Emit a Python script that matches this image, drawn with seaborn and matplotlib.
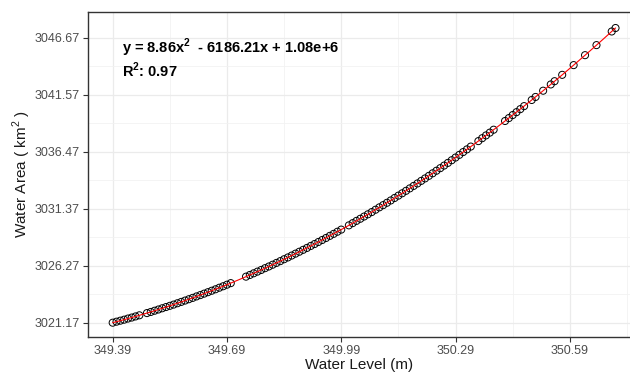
import numpy as np
import pandas as pd
import seaborn as sns
import matplotlib.pyplot as plt
from matplotlib.ticker import MultipleLocator, FixedLocator

# water level (m) / water area (km2)
level = [349.39, 349.40, 349.41, 349.42, 349.43, 349.44, 349.45, 349.46,
         349.48, 349.49, 349.50, 349.51, 349.52, 349.53, 349.54, 349.55,
         349.56, 349.57, 349.58, 349.59, 349.60, 349.61, 349.62, 349.63,
         349.64, 349.65, 349.66, 349.67, 349.68, 349.69, 349.70,
         349.74, 349.75, 349.76, 349.77, 349.78, 349.79, 349.80, 349.81,
         349.82, 349.83, 349.84, 349.85, 349.86, 349.87, 349.88, 349.89,
         349.90, 349.91, 349.92, 349.93, 349.94, 349.95, 349.96, 349.97,
         349.98, 349.99,
         350.01, 350.02, 350.03, 350.04, 350.05, 350.06, 350.07, 350.08,
         350.09, 350.10, 350.11, 350.12, 350.13, 350.14, 350.15, 350.16,
         350.17, 350.18, 350.19, 350.20, 350.21, 350.22, 350.23, 350.24,
         350.25, 350.26, 350.27, 350.28, 350.29, 350.30, 350.31, 350.32,
         350.33, 350.35, 350.36, 350.37, 350.38, 350.39, 350.42, 350.43,
         350.44, 350.45, 350.46, 350.47, 350.49, 350.50, 350.52, 350.54,
         350.55, 350.57, 350.60, 350.63, 350.66, 350.70, 350.71]
area = [3021.17, 3021.26, 3021.35, 3021.44, 3021.54, 3021.63, 3021.73, 3021.83,
        3022.03, 3022.13, 3022.24, 3022.35, 3022.46, 3022.57, 3022.68, 3022.79,
        3022.91, 3023.03, 3023.15, 3023.27, 3023.39, 3023.52, 3023.64, 3023.77,
        3023.90, 3024.03, 3024.16, 3024.30, 3024.43, 3024.57, 3024.71,
        3025.29, 3025.44, 3025.59, 3025.74, 3025.89, 3026.05, 3026.20, 3026.36,
        3026.52, 3026.68, 3026.85, 3027.01, 3027.18, 3027.35, 3027.52, 3027.69,
        3027.86, 3028.04, 3028.21, 3028.39, 3028.57, 3028.75, 3028.94, 3029.12,
        3029.31, 3029.50,
        3029.88, 3030.08, 3030.28, 3030.47, 3030.67, 3030.87, 3031.07, 3031.28,
        3031.49, 3031.69, 3031.90, 3032.11, 3032.33, 3032.54, 3032.75, 3032.97,
        3033.19, 3033.41, 3033.63, 3033.86, 3034.08, 3034.31, 3034.54, 3034.77,
        3035.00, 3035.23, 3035.47, 3035.71, 3035.95, 3036.19, 3036.44, 3036.68,
        3036.93, 3037.42, 3037.68, 3037.93, 3038.18, 3038.44, 3039.22, 3039.48,
        3039.75, 3040.01, 3040.28, 3040.55, 3041.10, 3041.37, 3041.93, 3042.49,
        3042.78, 3043.35, 3044.22, 3045.11, 3046.01, 3047.23, 3047.54]

x_ticks = [349.39, 349.69, 349.99, 350.29, 350.59]
y_ticks = [3021.17, 3026.27, 3031.37, 3036.47, 3041.57, 3046.67]

eq_text = 'y = 8.86x$^\\mathbf{2}$  - 6186.21x + 1.08e+6'
r2_text = 'R$^\\mathbf{2}$: 0.97'

df = pd.DataFrame({'level': level, 'area': area})

sns.set_theme(style='white')
plt.rcParams['font.family'] = ['Liberation Sans', 'DejaVu Sans']
plt.rcParams['mathtext.fontset'] = 'custom'
plt.rcParams['mathtext.rm'] = 'Liberation Sans'
plt.rcParams['mathtext.bf'] = 'Liberation Sans:bold'

fig = plt.figure(figsize=(6.3, 3.74), dpi=100)
ax = fig.add_axes([88.3 / 630, 1 - 336.7 / 374, (630 - 88.3) / 630, 325 / 374])

sns.regplot(data=df, x='level', y='area', order=2, ci=None, ax=ax, color='black',
            scatter_kws=dict(s=26, facecolors='none', edgecolors='black',
                             linewidths=0.7, alpha=1, zorder=2),
            line_kws=dict(color='red', lw=0.8, zorder=3))

ax.set_xlim(349.326, 350.748)
ax.set_ylim(3019.916, 3049.0)
ax.xaxis.set_major_locator(FixedLocator(x_ticks))
ax.yaxis.set_major_locator(FixedLocator(y_ticks))
ax.set_xticklabels([f'{v:.2f}' for v in x_ticks])
ax.set_yticklabels([f'{v:.2f}' for v in y_ticks])
ax.xaxis.set_minor_locator(MultipleLocator(0.15, offset=349.39))
ax.yaxis.set_minor_locator(MultipleLocator(2.55, offset=3021.17))
ax.grid(which='major', color='#EBEBEB', lw=0.9)
ax.grid(which='minor', color='#F2F2F2', lw=0.6)
ax.set_axisbelow(True)

ax.tick_params(which='major', length=3.5, width=0.8, color='#333333',
               labelcolor='#4D4D4D', labelsize=9, pad=2.5)
ax.tick_params(which='minor', length=0)
ax.tick_params(axis='x', bottom=True)
ax.tick_params(axis='y', left=True)

for side in ['left', 'bottom', 'top']:
    ax.spines[side].set_color('#333333')
    ax.spines[side].set_linewidth(1.0)
ax.spines['right'].set_visible(False)

ax.set_xlabel('Water Level (m)', fontsize=11, color='#1A1A1A', labelpad=0.5)
ax.set_ylabel('Water Area ( km$^\\mathrm{2}$ )', fontsize=11, color='#1A1A1A', labelpad=1.5)

ax.text(0.0617, 0.874, eq_text, transform=ax.transAxes, fontsize=10.5,
        fontweight='bold', color='black', va='baseline')
ax.text(0.0617, 0.80, r2_text, transform=ax.transAxes, fontsize=10.5,
        fontweight='bold', color='black', va='baseline')

plt.savefig('out.png', dpi=100)
